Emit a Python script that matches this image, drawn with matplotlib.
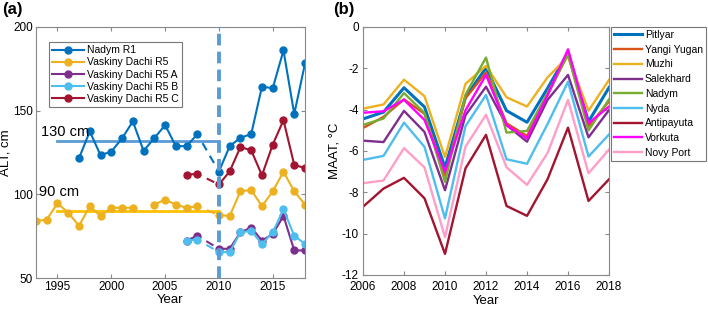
import matplotlib.pyplot as plt
import numpy as np

plt.rcParams['font.family'] = ['Liberation Sans', 'DejaVu Sans']
plt.rcParams['axes.unicode_minus'] = False

nan = np.nan
# panel (a): active layer thickness, cm
years_a = np.arange(1993, 2019)
nadym_r1 = [nan, nan, nan, nan, 121.6, 137.6, 123.4, 125.6, 133.4, 143.6, 126, 133.6, 141.4,
            128.8, 128.8, 136, nan, 113.6, 128.8, 133.8, 136, 164.4, 163.4, 186, 148, 178.2]
vd_r5 = [84.1, 84.9, 94.7, 89, 81.2, 92.9, 87.1, 92, 92, 92, nan, 93.9, 96.9,
         93.9, 92, 92.9, nan, 87.6, 87.1, 101.8, 102.7, 92.9, 101.8, 113.5, 101.8, 93.9]
vd_r5a = [nan] * 14 + [72.4, 75.3, nan, 67.5, 67.5, 77.3, 80.2, 72.4, 76.3, 87.1, 66.5, 66.5]
vd_r5b = [nan] * 14 + [72.4, 73.0, nan, 65.5, 65.5, 77.3, 78.2, 70.4, 77.3, 91.0, 75.3, 70.4]
vd_r5c = [nan] * 14 + [111.8, 112.2, nan, 105.9, 113.7, 128.3, 126.3, 111.4, 129.7, 144.3, 117.6, 115.7]
names_a = ["Nadym R1", "Vaskiny Dachi R5", "Vaskiny Dachi R5 A", "Vaskiny Dachi R5 B", "Vaskiny Dachi R5 C"]
colors_a = ["#0072BD", "#EDB120", "#7E2F8E", "#4DBEEE", "#A2142F"]
mean_nadym = 132
mean_vd = 90.2

# panel (b): mean annual air temperature, C
years_b = np.arange(2006, 2019)
maat = {
    "Pitlyar":     [-4.45, -4.12, -2.94, -3.87, -6.8, -3.39, -1.98, -4.05, -4.61, -2.97, -1.24, -4.58, -2.93],
    "Yangi Yugan": [-4.89, -4.35, -3.5, -4.2, -7.2, -3.45, -2.2, -4.66, -5.27, -3.3, -1.3, -4.8, -3.6],
    "Muzhi":       [-3.95, -3.75, -2.55, -3.35, -6.3, -2.75, -1.88, -3.4, -3.85, -2.44, -1.43, -4.05, -2.56],
    "Salekhard":   [-5.5, -5.57, -4.06, -5.08, -7.9, -4.27, -2.89, -4.75, -5.55, -3.53, -2.32, -5.34, -4.02],
    "Nadym":       [-4.74, -4.43, -3.2, -4.16, -7.5, -3.27, -1.48, -5.11, -5.03, -3.2, -1.35, -5.0, -3.5],
    "Nyda":        [-6.43, -6.24, -4.63, -5.8, -9.26, -4.8, -3.29, -6.4, -6.62, -4.7, -2.65, -6.27, -5.2],
    "Antipayuta":  [-8.7, -7.82, -7.3, -8.29, -10.98, -6.84, -5.22, -8.66, -9.14, -7.37, -4.87, -8.42, -7.37],
    "Vorkuta":     [-4.15, -4.08, -3.52, -4.5, -7.0, -4.03, -2.32, -4.75, -5.39, -3.3, -1.08, -4.66, -3.85],
    "Novy Port":   [-7.56, -7.43, -5.86, -6.8, -10.17, -5.79, -4.25, -6.79, -7.64, -6.1, -3.53, -7.08, -5.93],
}
colors_b = ["#0072BD", "#D95319", "#EDB120", "#7E2F8E", "#77AC30", "#4DBEEE", "#A2142F", "#FF00FF", "#FF9EC8"]


def style_axes(ax, xpad=2, ypad=2):
    for s in ax.spines.values():
        s.set_color("#888888")
        s.set_linewidth(0.8)
    ax.tick_params(direction="in", top=True, right=True, labelsize=8.5, color="#888888",
                   length=3)
    ax.tick_params(axis="x", pad=xpad)
    ax.tick_params(axis="y", pad=ypad)


fig = plt.figure(figsize=(7.08, 3.10), dpi=100)
ax1 = fig.add_axes([0.0508, 0.103, 0.380, 0.81])
ax2 = fig.add_axes([0.5127, 0.113, 0.3475, 0.80])

# panel (a)
series_a = [nadym_r1, vd_r5, vd_r5a, vd_r5b, vd_r5c]
for vals, name, c in zip(series_a, names_a, colors_a):
    vals = np.array(vals, dtype=float)
    # dashed bridge over the missing 2009 value
    i8 = list(years_a).index(2008)
    if np.isnan(vals[i8 + 1]) and not np.isnan(vals[i8]) and not np.isnan(vals[i8 + 2]):
        ax1.plot([2008, 2010], [vals[i8], vals[i8 + 2]], color=c, lw=1.5, ls=(2, (4, 3)))
    ax1.plot(years_a, vals, color=c, lw=1.5, marker="o", ms=5, label=name)

ax1.plot([1995, 2010], [mean_nadym, mean_nadym], color="#5B9BD5", lw=2, zorder=1)
ax1.plot([1995, 2010], [mean_vd, mean_vd], color="#FFC000", lw=2, zorder=1)
ax1.axvline(2010, color="#5B9BD5", lw=2.8, ls=(0, (3, 1.6)), zorder=5)
ax1.text(1993.5, 137, "130 cm", fontsize=10.5, va="center", ha="left")
ax1.text(1993.3, 101.5, "90 cm", fontsize=10.5, va="center", ha="left")
ax1.set_xlim(1993, 2018)
ax1.set_ylim(50, 200)
ax1.set_xticks([1995, 2000, 2005, 2010, 2015])
ax1.set_yticks([50, 100, 150, 200])
ax1.set_xlabel("Year", fontsize=9.5, labelpad=1)
ax1.set_ylabel("ALT, cm", fontsize=9.5, labelpad=1)
style_axes(ax1)
leg = ax1.legend(loc="upper left", bbox_to_anchor=(0.03, 0.96), fontsize=7.5, frameon=True,
                 fancybox=False, edgecolor="#555555", handlelength=3, borderpad=0.3,
                 labelspacing=0.2, handletextpad=0.3)
leg.get_frame().set_linewidth(0.8)
ax1.text(-0.125, 1.10, "(a)", transform=ax1.transAxes, fontsize=12, fontweight="bold", va="top")

# panel (b)
for (name, vals), c in zip(maat.items(), colors_b):
    lw = 2.2 if name == "Pitlyar" else 1.7
    ax2.plot(years_b, vals, color=c, lw=lw, label=name)
ax2.set_xlim(2006, 2018)
ax2.set_ylim(-12, 0)
ax2.set_xticks(range(2006, 2019, 2))
ax2.set_yticks(range(-12, 1, 2))
ax2.set_xlabel("Year", fontsize=9.5, labelpad=1)
ax2.set_ylabel("MAAT, °C", fontsize=9.5, labelpad=1)
style_axes(ax2, xpad=4.5, ypad=3)
leg2 = ax2.legend(loc="upper left", bbox_to_anchor=(1.008, 1.0), borderaxespad=0, fontsize=7.5,
                  frameon=True, fancybox=False, edgecolor="#555555", handlelength=2.7,
                  borderpad=0.3, labelspacing=0.45, handletextpad=0.25)
leg2.get_frame().set_linewidth(0.8)
ax2.text(-0.12, 1.10, "(b)", transform=ax2.transAxes, fontsize=12, fontweight="bold", va="top")

fig.savefig("out.png", dpi=100)
